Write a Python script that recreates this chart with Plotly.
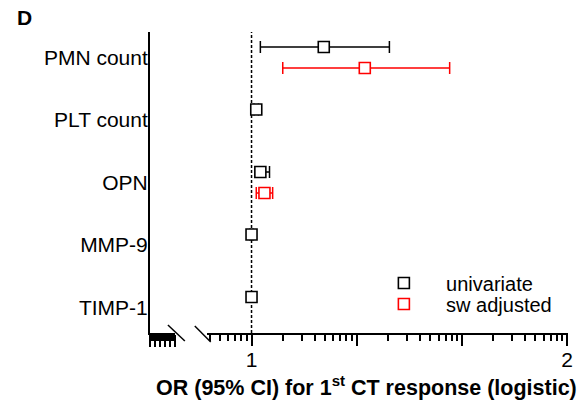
import plotly.graph_objects as go

# ---- data ----
categories = ["PMN count", "PLT count", "OPN", "MMP-9", "TIMP-1"]
uni_or = [1.229, 1.015, 1.028, 1.000, 1.000]
uni_lo = [1.028, 1.008, 1.012, 0.995, 0.995]
uni_hi = [1.437, 1.022, 1.057, 1.005, 1.005]
sw_or = [1.359, None, 1.041, None, None]
sw_lo = [1.099, None, 1.015, None, None]
sw_hi = [1.628, None, 1.067, None, None]
x_tickvals = [1, 2]
x_ticktext = ["1", "2"]

FONT = "Liberation Sans, Arial, Helvetica, sans-serif"
off = 0.168

def plus(v, h):
    return [None if a is None else b - a for a, b in zip(v, h)]

def minus(v, l):
    return [None if a is None else a - b for a, b in zip(v, l)]

idx = list(range(len(categories)))

fig = go.Figure()
# empty traces to make the broken-axis segments exist
fig.add_trace(go.Scatter(x=[], y=[], xaxis="x2", yaxis="y", showlegend=False))
fig.add_trace(go.Scatter(x=[], y=[], xaxis="x3", yaxis="y", showlegend=False))
fig.add_trace(go.Scatter(
    x=uni_or, y=[i - off for i in idx], mode="markers", name="\u00a0\u00a0\u00a0\u00a0univariate",
    marker=dict(symbol="square", size=11, color="white", line=dict(color="black", width=1.6)),
    error_x=dict(type="data", array=plus(uni_or, uni_hi), arrayminus=minus(uni_or, uni_lo),
                 color="black", thickness=1.5, width=6),
    legend="legend",
))
fig.add_trace(go.Scatter(
    x=sw_or, y=[i + off for i in idx], mode="markers", name="\u00a0\u00a0\u00a0\u00a0sw adjusted",
    marker=dict(symbol="square", size=11, color="white", line=dict(color="#ff0000", width=1.6)),
    error_x=dict(type="data", array=plus(sw_or, sw_hi), arrayminus=minus(sw_or, sw_lo),
                 color="#ff0000", thickness=1.5, width=6),
    legend="legend2",
))

W, H = 585, 406
L, R, T, B = 150, 15, 32, 73
pw = W - L - R
ph = H - T - B

def px2paper_x(p):
    return (p - L) / pw

def px2paper_y(p):
    return (H - B - p) / ph

x_left_px = 207
fig.update_layout(
    width=W, height=H,
    margin=dict(l=L, r=R, t=T, b=B),
    paper_bgcolor="white", plot_bgcolor="rgba(0,0,0,0)",
    font=dict(family=FONT, color="black", size=20),
    xaxis=dict(domain=[0, 1], range=[0.6782, 2.0031], anchor="y",
               showline=False, showgrid=False, zeroline=False,
               ticks="outside", tickvals=x_tickvals, ticktext=x_ticktext,
               ticklen=8, tickwidth=1.5, tickcolor="black",
               tickfont=dict(size=21, family=FONT, color="black")),
    xaxis2=dict(domain=[px2paper_x(x_left_px), 1], type="log", range=[-0.426, 3.0095], anchor="y",
                showline=True, linewidth=1.5, linecolor="black", showgrid=False, zeroline=False,
                ticks="outside", tick0=0, dtick=1, ticklen=11, tickwidth=1.5, tickcolor="black",
                showticklabels=False,
                minor=dict(dtick="D1", ticks="outside", ticklen=6, tickwidth=1.5, tickcolor="black",
                           showgrid=False)),
    xaxis3=dict(domain=[0, px2paper_x(175)], type="log", range=[-5, 0], anchor="y",
                showline=True, linewidth=1.5, linecolor="black", showgrid=False, zeroline=False,
                ticks="outside", tick0=0, dtick=1, ticklen=12, tickwidth=1.5, tickcolor="black",
                showticklabels=False,
                minor=dict(dtick="D1", ticks="outside", ticklen=6, tickwidth=1.5, tickcolor="black",
                           showgrid=False)),
    yaxis=dict(range=[4.408, -0.408], tickvals=idx, ticktext=categories,
               showline=True, linewidth=2, linecolor="black", ticks="outside", ticklen=0,
               tickwidth=0, showgrid=False, zeroline=False, ticklabelstandoff=-4,
               tickfont=dict(size=21, family=FONT, color="black")),
    legend=dict(x=px2paper_x(385), y=px2paper_y(283), xanchor="left", yanchor="middle",
                font=dict(size=20, family=FONT, color="black"), bgcolor="rgba(0,0,0,0)"),
    legend2=dict(x=px2paper_x(385), y=px2paper_y(304), xanchor="left", yanchor="middle",
                 font=dict(size=20, family=FONT, color="black"), bgcolor="rgba(0,0,0,0)"),
    showlegend=True,
)

# reference line at OR = 1
fig.add_shape(type="line", xref="x", yref="paper", x0=1, x1=1, y0=0, y1=1,
              line=dict(color="black", width=1.5, dash="3px,2px"), layer="below")
# axis break marks
for (xa, ya, xb, yb) in [(168, 325, 185, 341), (195, 326, 211, 342)]:
    fig.add_shape(type="line", xref="paper", yref="paper",
                  x0=px2paper_x(xa), y0=px2paper_y(ya), x1=px2paper_x(xb), y1=px2paper_y(yb),
                  line=dict(color="black", width=1.5))

fig.add_annotation(text="<b>OR (95% CI) for 1<sup>st</sup> CT response (logistic)</b>",
                   xref="paper", yref="paper", x=px2paper_x(368), y=px2paper_y(386),
                   xanchor="center", yanchor="middle", showarrow=False,
                   font=dict(size=21.5, family=FONT, color="black"))
fig.add_annotation(text="<b>D</b>", xref="paper", yref="paper",
                   x=px2paper_x(14), y=px2paper_y(18), xanchor="left", yanchor="middle",
                   showarrow=False, font=dict(size=21, family=FONT, color="black"))

fig.write_html("out.html")
